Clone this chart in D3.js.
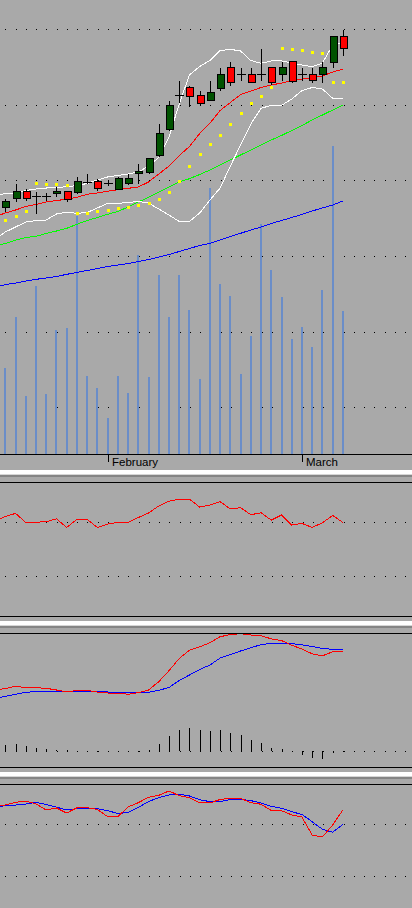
<!DOCTYPE html>
<html><head><meta charset="utf-8">
<script src="https://cdn.jsdelivr.net/npm/d3@7"></script>
<style>
html,body{margin:0;padding:0;background:#a9a9a9;}
svg{display:block;}
</style></head><body>
<svg id="c" width="412" height="908"></svg>
<script>
// ---- categories (trading days; first one only feeds the indicator lines) ----
const dates = ["2011-01-14","2011-01-18","2011-01-19","2011-01-20","2011-01-21","2011-01-24","2011-01-25","2011-01-26","2011-01-27","2011-01-28","2011-01-31",
"2011-02-01","2011-02-02","2011-02-03","2011-02-04","2011-02-07","2011-02-08","2011-02-09","2011-02-10","2011-02-11","2011-02-14","2011-02-15","2011-02-16","2011-02-17","2011-02-18","2011-02-22","2011-02-23","2011-02-24","2011-02-25","2011-02-28",
"2011-03-01","2011-03-02","2011-03-03","2011-03-04","2011-03-07"];

// ---- price candles (dates[1..]) ----
const open  = [126.53,127.64,128.61,127.90,127.90,128.30,128.57,128.47,129.84,129.89,129.62,128.91,129.62,130.95,131.16,133.33,136.85,141.27,142.33,141.27,140.61,142.27,144.97,144.09,144.05,144.09,144.97,144.05,145.77,144.09,144.05,144.05,145.71,149.07];
const high  = [127.55,129.53,128.87,128.47,128.30,129.09,128.57,130.46,130.85,130.15,129.97,130.42,130.85,132.14,133.01,137.47,140.55,143.16,142.46,141.88,143.16,144.84,145.67,144.84,144.84,147.35,144.97,145.67,145.77,144.84,144.84,145.63,149.07,149.87];
const low   = [126.00,127.32,127.41,125.73,127.37,127.94,127.28,128.38,129.70,128.74,129.36,128.91,129.53,129.70,131.03,133.24,136.68,140.38,139.85,140.08,140.61,141.97,142.67,143.33,142.99,143.29,142.72,143.29,143.07,143.29,143.07,143.07,145.05,146.64];
const close = [127.28,128.61,127.64,127.90,127.90,128.61,127.59,129.89,129.84,128.96,129.62,130.29,130.33,131.21,132.93,136.24,139.94,141.27,141.21,140.21,141.66,144.05,142.99,144.09,142.99,144.09,142.99,144.97,143.20,144.09,143.25,144.97,149.07,147.49];
const volume = [863,1370,583,1680,600,1243,1260,2380,783,660,360,780,610,1990,770,1790,1370,1790,1440,750,2660,1700,1580,800,1180,2300,1840,1570,1150,1270,1070,1640,3080,1430];
const sar = [124.77,125.30,125.96,129.62,129.53,129.53,129.40,125.73,125.65,125.96,126.09,126.40,126.45,126.75,126.98,127.51,128.43,129.90,131.91,133.47,134.80,135.99,137.43,138.89,140.21,141.11,142.41,147.49,147.35,147.22,146.96,146.82,142.99,142.99];

// ---- main-chart indicator lines (all dates) ----
const bbMid   = [125.23,125.69,126.09,126.55,126.82,127.15,127.35,127.51,127.77,128.17,128.34,128.57,128.78,128.96,129.13,129.80,130.85,131.91,133.30,134.49,136.21,137.56,139.26,140.31,141.37,141.84,142.30,142.63,142.89,143.23,143.42,143.56,143.82,144.35,144.71];
const bbUpper = [128.08,128.25,128.34,128.67,128.87,129.00,129.07,129.17,129.33,129.60,130.06,130.46,130.66,130.85,131.12,131.91,133.04,135.75,140.12,143.95,145.08,145.87,147.19,147.35,147.13,145.87,145.50,145.81,145.81,145.54,145.28,145.05,145.54,147.92,148.23];
const bbLower = [122.25,123.18,123.84,124.50,124.68,124.77,125.56,125.79,125.65,125.76,126.36,126.98,126.98,127.08,127.22,127.02,126.22,125.43,124.57,124.57,125.69,127.41,129.00,131.91,134.69,137.47,139.55,139.94,139.94,140.78,141.90,142.30,142.10,140.87,140.87];
const maGreen = [121.33,121.66,122.12,122.45,122.61,122.98,123.31,123.67,124.20,124.70,125.10,125.52,125.89,126.49,127.15,127.77,128.43,129.11,129.80,130.23,130.79,131.38,132.05,132.71,133.37,134.03,134.69,135.35,135.95,136.61,137.27,138.00,138.66,139.32,139.98];
const maBlue  = [115.84,116.23,116.43,116.70,116.92,117.09,117.29,117.58,117.82,118.09,118.35,118.62,118.81,119.01,119.28,119.54,119.87,120.20,120.60,121.00,121.39,121.66,122.12,122.59,123.01,123.45,123.84,124.31,124.70,125.10,125.50,125.96,126.36,126.75,127.28];
const priceGrid = [100,110,120,130,140,150];

// ---- sub window 1 ----
const rsi = [70.9,74.3,76.6,69.9,70.1,70.4,72.6,66.2,72.2,72.2,66.2,68.7,69.9,69.9,73.5,76.9,82.1,85.6,87.1,87.1,81.3,82.8,85.3,79.9,80.8,75.6,77.1,71.6,75.4,67.9,69.2,66.2,69.6,75.1,69.9];
const rsiGrid = [70,30];

// ---- sub window 2 ----
const macdRed  = [0.61,0.625,0.647,0.633,0.633,0.627,0.61,0.59,0.607,0.607,0.59,0.58,0.58,0.567,0.583,0.61,0.693,0.803,0.925,1.007,1.042,1.083,1.143,1.164,1.173,1.16,1.154,1.121,1.105,1.057,1.02,0.972,0.952,0.992,1.0];
const macdBlue = [0.525,0.547,0.568,0.587,0.595,0.597,0.597,0.597,0.597,0.597,0.597,0.59,0.583,0.583,0.585,0.587,0.607,0.635,0.705,0.76,0.815,0.86,0.93,0.965,1.0,1.032,1.064,1.077,1.077,1.074,1.061,1.045,1.026,1.017,1.017];
const macdHist = [0.06,0.07,0.05,0.03,0.017,0.01,0.007,0.003,0,0.003,-0.007,0.003,-0.007,0.003,0.01,0.07,0.15,0.21,0.23,0.21,0.20,0.21,0.18,0.16,0.11,0.08,0.03,0.02,-0.005,-0.037,-0.067,-0.077,-0.017,-0.01];
const macdGrid = [0];

// ---- sub window 3 ----
const stochRed  = [84.5,84.9,87.0,88.0,85.7,81.1,82.6,78.7,82.8,82.8,81.5,75.9,75.9,83.4,86.7,90.9,92.4,95.8,92.1,90.6,86.5,86.5,89.2,90.1,90.1,86.7,85.5,80.7,80.5,77.2,75.6,61.5,60.2,69.5,81.1];
const stochBlue = [83.9,84.2,84.9,85.7,86.9,85.3,83.2,81.1,82.1,82.1,82.1,80.5,78.4,79.0,83.0,87.6,90.6,92.7,93.2,91.9,89.0,87.5,87.5,89.2,89.3,88.3,86.5,83.9,82.4,79.7,77.6,72.0,66.1,63.8,70.0];
const stochGrid = [70,30];

// ================= drawing =================
const W = 412;
const svg = d3.select("#c");
const bg = "#a9a9a9";
svg.append("rect").attr("width",W).attr("height",908).attr("fill",bg);

const x = d3.scalePoint().domain(dates).range([-4.93, 342.9]);
const candleDates = dates.slice(1);

const yP = d3.scaleLinear().domain([100,150]).range([407.2,29.3]);
const yV = d3.scaleLinear().domain([0,4540]).range([454,0]);
const y1 = d3.scaleLinear().domain([0,100]).range([616.8,481.8]);
const y2 = d3.scaleLinear().domain([0,1]).range([751,651]);
const y3 = d3.scaleLinear().domain([0,100]).range([914.75,785.5]);

function clip(id, y0, y1_) {
  svg.append("clipPath").attr("id",id).append("rect").attr("x",0).attr("y",y0).attr("width",W).attr("height",y1_-y0);
  return svg.append("g").attr("clip-path",`url(#${id})`);
}
function dotted(g, yy) {
  const yr = Math.round(yy);
  g.selectAll(null).data(d3.range(5.3, W, 10.25)).join("rect")
    .attr("x", d => Math.round(d)).attr("y", yr).attr("width",1).attr("height",1).attr("fill","#000");
}
function drawLine(g, data, ys, color) {
  g.append("path").datum(data)
    .attr("d", d3.line().x((d,i)=>x(dates[i])).y(d=>ys(d)))
    .attr("fill","none").attr("stroke",color).attr("stroke-width",1)
    .attr("shape-rendering","crispEdges");
}
function hline(yy, color) {
  svg.append("rect").attr("x",0).attr("y",yy).attr("width",W).attr("height",1).attr("fill",color);
}
function separator(yy) {
  svg.append("rect").attr("x",0).attr("y",yy).attr("width",W).attr("height",4).attr("fill","#ffffff");
  svg.append("rect").attr("x",0).attr("y",yy+4).attr("width",W).attr("height",1).attr("fill","#d6d6d6");
  svg.append("rect").attr("x",0).attr("y",yy+5).attr("width",W).attr("height",2).attr("fill","#858585");
}

// ---------- main window ----------
const gm = clip("cm", 0, 454);
priceGrid.forEach(v => dotted(gm, yP(v)));

gm.selectAll(".vol").data(volume).join("rect")
  .attr("x",(d,i)=>Math.round(x(candleDates[i]))-1)
  .attr("y",d=>Math.round(yV(d)))
  .attr("width",2)
  .attr("height",d=>454-Math.round(yV(d)))
  .attr("fill","#6a8dc8");

drawLine(gm, maBlue, yP, "#0000ff");
drawLine(gm, maGreen, yP, "#00ff00");
drawLine(gm, bbUpper, yP, "#ffffff");
drawLine(gm, bbLower, yP, "#ffffff");
drawLine(gm, bbMid, yP, "#ff0000");

// candles
const cg = gm.append("g");
candleDates.forEach((d,i) => {
  const cx = Math.round(x(d));
  const o = open[i], c = close[i];
  cg.append("line").attr("x1",cx+0.5).attr("x2",cx+0.5)
    .attr("y1",Math.round(yP(high[i]))).attr("y2",Math.round(yP(low[i]))+1)
    .attr("stroke","#000").attr("stroke-width",1);
  if (Math.abs(o-c) < 0.05) {
    const yy = Math.round(yP(o))+0.5;
    cg.append("line").attr("x1",cx-4).attr("x2",cx+5).attr("y1",yy).attr("y2",yy)
      .attr("stroke","#000").attr("stroke-width",1);
  } else {
    const top = Math.round(yP(Math.max(o,c))), bot = Math.round(yP(Math.min(o,c)));
    cg.append("rect").attr("x",cx-3+0.5).attr("y",top+0.5)
      .attr("width",7).attr("height",Math.max(1,bot-top))
      .attr("fill", c>o ? "#005200" : "#ff0000")
      .attr("stroke","#000").attr("stroke-width",1);
  }
});

// parabolic SAR
gm.selectAll(".sar").data(sar).join("rect")
  .attr("x",(d,i)=>Math.round(x(candleDates[i]))-1)
  .attr("y",d=>Math.round(yP(d))-1)
  .attr("width",3).attr("height",3).attr("fill","#ffff00");

// time axis
hline(454, "#000");
const parse = d3.timeParse("%Y-%m-%d");
const fmt = d3.timeFormat("%B");
dates.forEach((d,i) => {
  if (i===0) return;
  const cur = parse(d), prev = parse(dates[i-1]);
  if (cur.getMonth() !== prev.getMonth()) {
    const tx = Math.round(x(d));
    svg.append("rect").attr("x",tx).attr("y",454).attr("width",1).attr("height",8).attr("fill","#000");
    svg.append("text").attr("x",tx+4).attr("y",465.5)
      .attr("font-family","'Liberation Sans', Arial, sans-serif").attr("font-size",11.5)
      .attr("fill","#000").text(fmt(cur));
  }
});
separator(470);

// ---------- sub window 1 ----------
hline(482, "#000");
const g1 = clip("c1", 483, 616);
rsiGrid.forEach(v => dotted(g1, y1(v)));
drawLine(g1, rsi, y1, "#ff0000");
hline(616, "#000");
separator(621);

// ---------- sub window 2 ----------
hline(633, "#000");
const g2 = clip("c2", 634, 767);
macdGrid.forEach(v => dotted(g2, y2(v)));
g2.selectAll(".hist").data(macdHist).join("rect")
  .attr("x",(d,i)=>Math.round(x(candleDates[i])))
  .attr("y",d=>Math.round(Math.min(y2(d), y2(0))))
  .attr("width",1)
  .attr("height",d=>Math.max(1, Math.round(Math.abs(y2(d)-y2(0)))))
  .attr("fill","#000");
drawLine(g2, macdBlue, y2, "#0000ff");
drawLine(g2, macdRed, y2, "#ff0000");
hline(767, "#000");
separator(772);

// ---------- sub window 3 ----------
hline(784, "#000");
const g3 = clip("c3", 785, 908);
stochGrid.forEach(v => dotted(g3, y3(v)));
drawLine(g3, stochBlue, y3, "#0000ff");
drawLine(g3, stochRed, y3, "#ff0000");
</script>
</body></html>
